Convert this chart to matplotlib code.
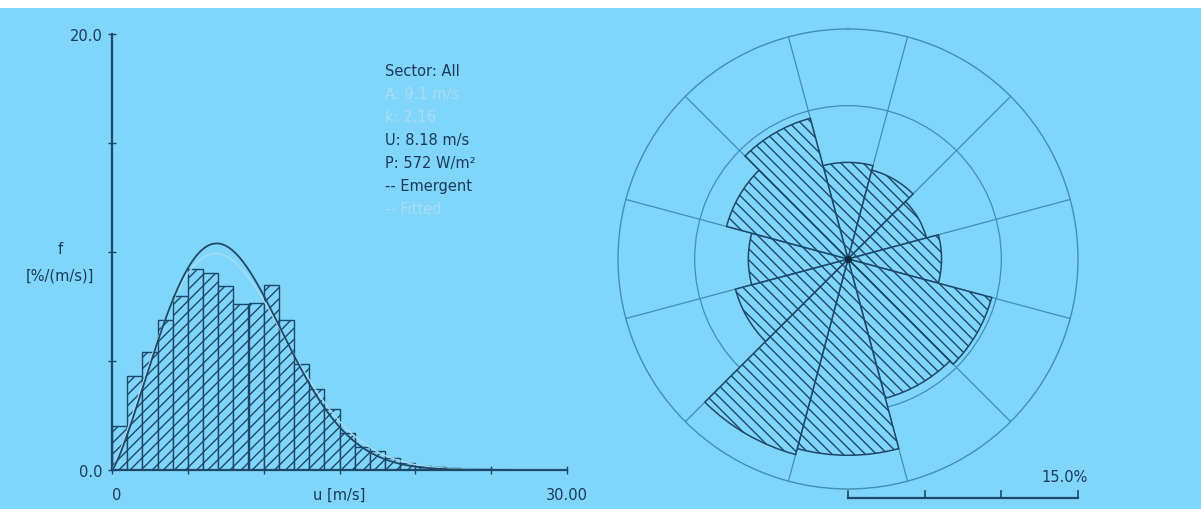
import numpy as np
import matplotlib
matplotlib.use("Agg")
import matplotlib.pyplot as plt
from matplotlib.patches import Rectangle

# ---- data -------------------------------------------------------------
# wind speed histogram, 1 m/s bins, frequency in %/(m/s)
speed_bin_left = np.arange(0, 25, 1)
speed_freq = [2.0, 4.3, 5.4, 6.9, 8.0, 9.2, 9.05, 8.45, 7.6, 7.65, 8.5, 6.9,
              4.85, 3.7, 2.8, 1.7, 1.05, 0.85, 0.55, 0.3, 0.2, 0.12, 0.08,
              0.05, 0.03]

# Weibull parameters
fitted_A = 9.1
fitted_k = 2.16
emergent_A = 8.96
emergent_k = 2.25
mean_speed = 8.18
power_density = 572

# wind rose: 12 sectors, frequency in %
sector_center_deg = [0, 30, 60, 90, 120, 150, 180, 210, 240, 270, 300, 330]
sector_freq = [6.3, 6.0, 5.3, 6.1, 9.7, 9.4, 12.8, 13.2, 7.6, 6.5, 8.2, 9.5]
rose_rings = [5, 10]
rose_max = 15.0

# ---- style -------------------------------------------------------------
W, H = 1201, 510
BG = "#80D5FB"
DARK = "#1d4868"
TEXT = "#1c3a58"
FAINT = "#aadcf3"
GRID = "#3f8fba"
plt.rcParams["font.family"] = ["DejaVu Sans"]
plt.rcParams["hatch.linewidth"] = 1.0

fig = plt.figure(figsize=(W / 100, H / 100), dpi=100)
fig.patch.set_facecolor("white")
fig.add_artist(Rectangle((0, 0), 1, 1 - 9 / H, transform=fig.transFigure,
                         facecolor=BG, edgecolor="none", zorder=-1))


def fx(px):
    return px / W


def fy(py):
    return 1 - py / H


def weibull_pct(u, A, k):
    return 100 * (k / A) * (u / A) ** (k - 1) * np.exp(-(u / A) ** k)


# ---- histogram ----------------------------------------------------------
ax = fig.add_axes([fx(112), fy(471), fx(567) - fx(112), fy(35) - fy(471)])
ax.patch.set_alpha(0)
ax.bar(speed_bin_left, speed_freq, width=1, align="edge", facecolor=BG,
       edgecolor=DARK, hatch="///", linewidth=1.0, zorder=2)
u = np.linspace(0, 30, 800)
ax.plot(u, weibull_pct(u, fitted_A, fitted_k), color=FAINT, lw=1.0, zorder=3)
ax.plot(u, weibull_pct(u, emergent_A, emergent_k), color=DARK, lw=1.3, zorder=4)
ax.set_xlim(0, 30)
ax.set_ylim(0, 20)
for s in ("top", "right"):
    ax.spines[s].set_visible(False)
for s in ("left", "bottom"):
    ax.spines[s].set_color(DARK)
    ax.spines[s].set_linewidth(1.6)
ax.set_yticks([0, 5, 10, 15, 20])
ax.set_yticklabels(["0.0", "", "", "", "20.0"])
ax.set_xticks([0, 5, 10, 15, 20, 25, 30])
ax.set_xticklabels(["0", "", "", "u [m/s]", "", "", "30.00"])
ax.tick_params(axis="both", colors=DARK, labelcolor=TEXT, labelsize=10.5,
               direction="inout", length=6, width=1.0)
ax.tick_params(axis="y", pad=4)
ax.tick_params(axis="x", pad=9)
xt = ax.get_xticklabels()
import matplotlib.transforms as mtransforms
xt[0].set_transform(xt[0].get_transform() +
                    mtransforms.ScaledTranslation(5 / 100, 0, fig.dpi_scale_trans))

fig.text(fx(60), fy(249), "f", ha="center", va="center", fontsize=10.5, color=TEXT)
fig.text(fx(60), fy(276), "[%/(m/s)]", ha="center", va="center", fontsize=10.5,
         color=TEXT)

summary = [
    ("Sector: All", TEXT),
    (f"A: {fitted_A} m/s", FAINT),
    (f"k: {fitted_k}", FAINT),
    (f"U: {mean_speed} m/s", TEXT),
    (f"P: {power_density} W/m\u00b2", TEXT),
    ("-- Emergent", TEXT),
    ("-- Fitted", FAINT),
]
for i, (line, col) in enumerate(summary):
    fig.text(fx(385), fy(72 + 23 * i), line, ha="left", va="center",
             fontsize=10.5, color=col)

# ---- wind rose ------------------------------------------------------------
cx, cy, R = 848, 260, 230
rect = [fx(cx - R), fy(cy + R), 2 * R / W, 2 * R / H]
axr = fig.add_axes(rect, projection="polar")
axr.set_facecolor("none")
axr.set_theta_zero_location("N")
axr.set_theta_direction(-1)
axr.set_ylim(0, rose_max)
axr.set_yticks(rose_rings)
axr.set_yticklabels([])
axr.set_xticks(np.deg2rad(np.arange(15, 360, 30)))
axr.set_xticklabels([])
axr.set_axisbelow(True)
axr.grid(True, color=GRID, lw=0.9)
axr.spines["polar"].set_color(GRID)
axr.spines["polar"].set_linewidth(1.0)
axr.tick_params(length=0)
axr.bar(np.deg2rad(sector_center_deg), sector_freq, width=np.deg2rad(30),
        bottom=0, facecolor=BG, edgecolor=DARK, hatch="\\\\\\", linewidth=1.1,
        zorder=3)
axr.plot([0], [0], "o", ms=4, color="#0d2a40", zorder=5)

# scale bar under the rose
axs = fig.add_axes(rect)
axs.set_xlim(-rose_max, rose_max)
axs.set_ylim(-rose_max, rose_max)
axs.axis("off")
ybar = -rose_max * 239 / R
ytick = -rose_max * 232 / R
axs.plot([0, rose_max], [ybar, ybar], color=DARK, lw=1.6, clip_on=False)
for t in [0, 5, 10, 15]:
    axs.plot([t, t], [ybar, ytick], color=DARK, lw=1.2, clip_on=False)
axs.text(rose_max * 240 / R, -rose_max * 217 / R, f"{rose_max:.1f}%",
         ha="right", va="center", fontsize=10.5, color=TEXT)

fig.savefig("out.png", dpi=100, facecolor=fig.get_facecolor())
